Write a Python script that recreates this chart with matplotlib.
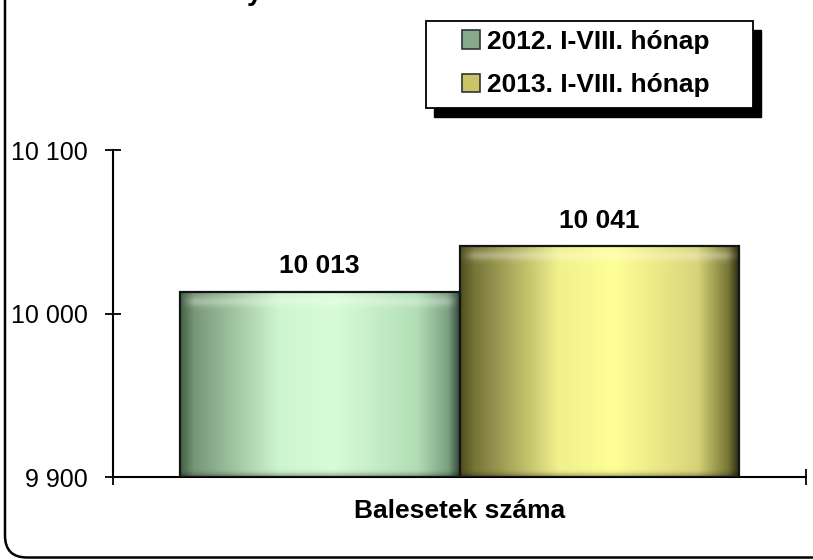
import numpy as np
import matplotlib
matplotlib.use("Agg")
import matplotlib.pyplot as plt
from matplotlib.patches import Patch, Rectangle, FancyBboxPatch
from matplotlib.ticker import FuncFormatter

plt.rcParams["font.family"] = ["Liberation Sans", "DejaVu Sans"]

# data
category = "Balesetek száma"
series_labels = ["2012. I-VIII. hónap", "2013. I-VIII. hónap"]
values = [10013, 10041]
y_ticks = [9900, 10000, 10100]

# colour stops across each bar (left edge -> right edge)
stops = [0.0, 0.05, 0.35, 0.55, 0.85, 0.96, 1.0]
green_stops = [(70, 95, 70), (120, 152, 120), (205, 245, 205), (215, 252, 215),
               (178, 222, 180), (122, 160, 128), (55, 75, 60)]
yellow_stops = [(80, 80, 30), (118, 116, 55), (240, 240, 140), (255, 255, 150),
                (215, 212, 120), (120, 118, 55), (40, 40, 15)]
legend_colors = ["#86aa8a", "#c9c466"]


def fmt(v):
    return f"{v:,.0f}".replace(",", " ")


def gradient(stops_rgb, top_px, ncols=200):
    xs = np.linspace(0, 1, ncols)
    arr = np.array(stops_rgb, dtype=float) / 255
    row = np.stack([np.interp(xs, stops, arr[:, k]) for k in range(3)], axis=1)
    nrows = int(top_px)
    img = np.repeat(row[None, :, :], nrows, axis=0)
    # soft bevel under the top edge and slight darkening at the bottom
    d = np.arange(nrows)[:, None]
    inner = np.clip(np.minimum(xs, 1 - xs) / 0.05, 0, 1)[None, :]
    w = 0.3 * np.exp(-((d - 9) / 5.0) ** 2) * inner
    img = img * (1 - w[..., None]) + w[..., None]
    dark = 0.25 * np.exp(-((nrows - 1 - d) / 4.0) ** 2)
    img = img * (1 - dark[..., None])
    return img


fig = plt.figure(figsize=(8.13, 5.6), dpi=100)
ax = fig.add_axes([113 / 813, 1 - 477 / 560, 693 / 813, 327 / 560])

w = 0.404
xs = [-w / 2, w / 2]
bars = ax.bar(xs, [v - y_ticks[0] for v in values], width=w, bottom=y_ticks[0],
              facecolor="none", edgecolor="#151515", linewidth=1.6, zorder=3)
px_per_unit = 327 / (y_ticks[-1] - y_ticks[0])
for bar, st in zip(bars, [green_stops, yellow_stops]):
    x0, y0 = bar.get_x(), bar.get_y()
    x1, y1 = x0 + bar.get_width(), y0 + bar.get_height()
    img = gradient(st, (y1 - y0) * px_per_unit)
    im = ax.imshow(img, extent=[x0, x1, y0, y1], aspect="auto", origin="upper",
                   zorder=2, interpolation="bilinear")
    im.set_clip_path(bar)
    ax.annotate(fmt(y1), (x0 + bar.get_width() / 2, y1), xytext=(0, 10),
                textcoords="offset points", ha="center", va="bottom",
                fontsize=19, fontweight="bold")

ax.set_xlim(-0.5, 0.5)
ax.set_ylim(y_ticks[0], y_ticks[-1])
ax.set_yticks(y_ticks)
ax.yaxis.set_major_formatter(FuncFormatter(lambda v, p: fmt(v)))
ax.tick_params(axis="y", direction="inout", length=12, width=1.3, labelsize=18, pad=12)
ax.set_xticks([0])
ax.set_xticklabels([category], fontsize=19, fontweight="bold")
ax.tick_params(axis="x", which="major", length=0, pad=16)
ax.set_xticks([-0.5, 0.5], minor=True)
ax.tick_params(axis="x", which="minor", direction="inout", length=12, width=1.3)
for s in ["top", "right"]:
    ax.spines[s].set_visible(False)
for s in ["left", "bottom"]:
    ax.spines[s].set_linewidth(1.5)

# legend with hard shadow
lx0, lx1, ly0, ly1 = 426 / 813, 753 / 813, 1 - 108 / 560, 1 - 21 / 560
fig.add_artist(Rectangle((lx0 + 8 / 813, ly0 - 9 / 560), lx1 - lx0, ly1 - ly0,
                         transform=fig.transFigure, facecolor="black",
                         edgecolor="black", zorder=5))
fig.add_artist(Rectangle((lx0, ly0), lx1 - lx0, ly1 - ly0, transform=fig.transFigure,
                         facecolor="white", edgecolor="black", linewidth=1.3, zorder=6))
handles = [Patch(facecolor=c, edgecolor="#333333", linewidth=1.2) for c in legend_colors]
leg = fig.legend(handles, series_labels, loc="center",
                 bbox_to_anchor=((lx0 + lx1) / 2 - 4 / 813, (ly0 + ly1) / 2 + 1 / 560),
                 frameon=False, prop={"size": 19, "weight": "bold"},
                 handlelength=0.7, handleheight=0.7, handletextpad=0.25,
                 labelspacing=0.75)
leg.set_zorder(7)

# cut-off title (clipped at the top edge, as in the reference) and rounded outer frame
fig.text(247 / 813, 1.0, "y", fontsize=20, fontweight="bold", va="baseline")
fig.add_artist(FancyBboxPatch((0.05, 0.025), 8.3, 6.0,
                              boxstyle="round,pad=0,rounding_size=0.22",
                              transform=fig.dpi_scale_trans, facecolor="none",
                              edgecolor="black", linewidth=1.8))

fig.savefig("out.png", dpi=100)
